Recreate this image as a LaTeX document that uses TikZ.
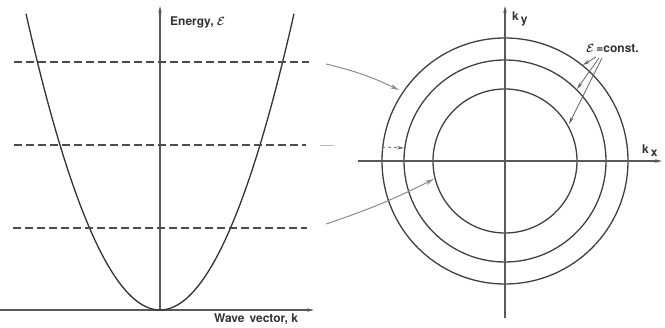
\documentclass[tikz,border=0pt]{standalone}
\usepackage{fontspec}
\setmainfont{TeX Gyre Heros}
\usetikzlibrary{arrows.meta}
\begin{document}
\begin{tikzpicture}[x=1pt,y=-1pt,
  curve/.style={line width=1.3pt,draw=black!80},
  axis/.style={line width=1.1pt,draw=black!65,-{Stealth[length=7pt,width=3.5pt,fill=black!85]}},
  level/.style={line width=1.1pt,draw=black!70,dash pattern=on 8pt off 4pt},
  link/.style={line width=1pt,draw=black!45,-{Stealth[length=9pt,width=4.5pt,fill=black]}},
  pointer/.style={line width=0.8pt,draw=black!60,-{Stealth[length=7pt,width=3.5pt,fill=black]}},
  lbl/.style={font=\fontsize{12}{14}\selectfont\bfseries\boldmath,inner sep=0pt,text=black!80},
  circ/.style={line width=1.3pt,draw=black!75}]
\useasboundingbox (0,0) rectangle (665,328);
% left graph axes
\coordinate (hx0) at (0,310);
\coordinate (hx1) at (314,310);
\coordinate (vy0) at (160,310);
\coordinate (vy1) at (160,6);
\draw[axis] (hx0) -- (hx1);
\draw[axis] (vy0) -- (vy1);
\node[lbl,anchor=west] (energy) at (170,22) {Energy, $\mathcal{E}$};
\node[lbl,anchor=north] (wave) at (256,314) {Wave\hspace{5pt}vector, k};
% parabola
\draw[curve] plot[domain=-13.4:13.4,samples=80,smooth] ({160+10*\x},{310-1.65*\x*\x});
% dashed levels
\coordinate (l1a) at (14,62);  \coordinate (l1b) at (309,62);
\coordinate (l2a) at (14,145); \coordinate (l2b) at (306,145);
\coordinate (l3a) at (13,228); \coordinate (l3b) at (307,228);
\draw[level] (l1a) -- (l1b);
\draw[level] (l2a) -- (l2b);
\draw[level] (l3a) -- (l3b);
% right graph
\coordinate (c) at (505,161);
\coordinate (kx0) at (358,161); \coordinate (kx1) at (662,161);
\coordinate (ky0) at (505,318); \coordinate (ky1) at (505,6);
\draw[circ] (c) circle[radius=123];
\draw[circ] (c) circle[radius=101];
\draw[circ] (c) circle[radius=72];
\draw[axis] (kx0) -- (kx1);
\draw[axis] (ky0) -- (ky1);
\node[lbl,anchor=west] (ky) at (512,19) {k\,\raisebox{-3pt}{y}};
\node[lbl,anchor=west] (kx) at (642,151) {k\,\raisebox{-3pt}{x}};
\node[lbl,anchor=west] (econst) at (586,48) {$\mathcal{E}$\,=const.};
% links
\coordinate (a1s) at (326,64);  \coordinate (a1e) at (399,90);
\coordinate (a2s) at (320,145); \coordinate (a2e) at (334,145);
\coordinate (a3s) at (326,224); \coordinate (a3e) at (434,179);
\draw[link] (a1s) to[bend left=6] (a1e);
\draw[line width=0.8pt,draw=black!25] (a2s) -- (a2e);
\draw[link] (a3s) to[bend right=4] (a3e);
\coordinate (m1) at (382,147); \coordinate (m2) at (404,148);
\draw[pointer,dashed] (m1) -- (m2);
% epsilon const pointers
\coordinate (p1s) at (596,57); \coordinate (p1e) at (583,65);
\coordinate (p2s) at (599,58); \coordinate (p2e) at (577,89);
\coordinate (p3s) at (602,58); \coordinate (p3e) at (569,124);
\draw[pointer] (p1s) -- (p1e);
\draw[pointer] (p2s) -- (p2e);
\draw[pointer] (p3s) -- (p3e);
\end{tikzpicture}
\end{document}
